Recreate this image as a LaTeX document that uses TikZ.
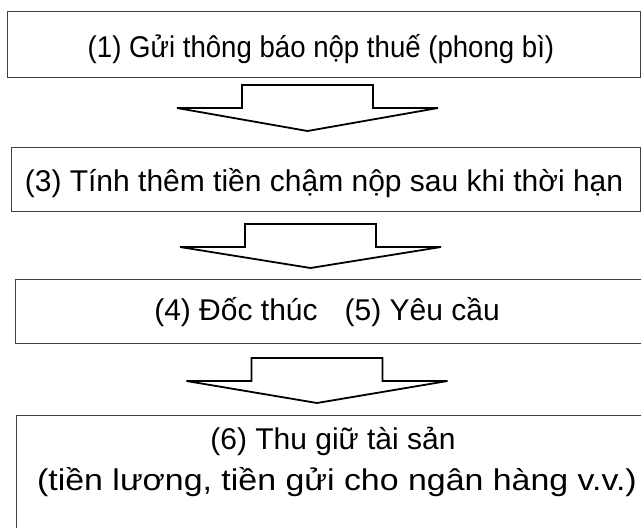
\documentclass[tikz,border=0pt]{standalone}
\usepackage{fontspec}
\setmainfont{Liberation Sans}
\usetikzlibrary{calc}
\tikzset{
  x=1pt, y=-1pt,
  stepbox/.style={draw=black!75, line width=1.4pt, anchor=north west, inner sep=0pt},
  steptext/.style={font=\fontsize{30}{40}\selectfont, anchor=base, inner sep=0pt},
  blockarrow/.style={draw=black, line width=1.8pt, fill=white, line join=miter},
}
% block arrow: centre x, stem top y, wing y, tip y
\newcommand\downblock[4]{%
  \draw[blockarrow] (#1-65.5,#2) -- (#1+65.5,#2) -- (#1+65.5,#3) -- (#1+130.5,#3)
    -- (#1,#4) -- (#1-130.5,#3) -- (#1-65.5,#3) -- cycle;}
\begin{document}
\begin{tikzpicture}
\useasboundingbox (0,0) rectangle (641,528);
\clip (0,0) rectangle (641,528);
% boxes
\node[stepbox, minimum width=633, minimum height=66] (s1) at (7,11) {};
\node[stepbox, minimum width=629, minimum height=64] (s2) at (11,147) {};
\node[stepbox, minimum width=640, minimum height=64] (s3) at (15,279) {};
\node[stepbox, minimum width=640, minimum height=130] (s4) at (16,415) {};
% labels
\node[steptext, xscale=0.92] (t1) at (321,57) {(1) Gửi thông báo nộp thuế (phong bì)};
\node[steptext] (t2) at (324,191) {(3) Tính thêm tiền chậm nộp sau khi thời hạn};
\node[steptext] (t3) at (327,320) {(4) Đốc thúc\hspace{0.9em}(5) Yêu cầu};
\node[steptext] (t6a) at (333,449) {(6) Thu giữ tài sản};
\node[steptext, xscale=1.13] (t6b) at (337,490) {(tiền lương, tiền gửi cho ngân hàng v.v.)};
% arrows between the steps
\downblock{307.5}{85}{108}{131}
\downblock{310.5}{224}{247}{268}
\downblock{317}{358}{381}{403}
\end{tikzpicture}
\end{document}
